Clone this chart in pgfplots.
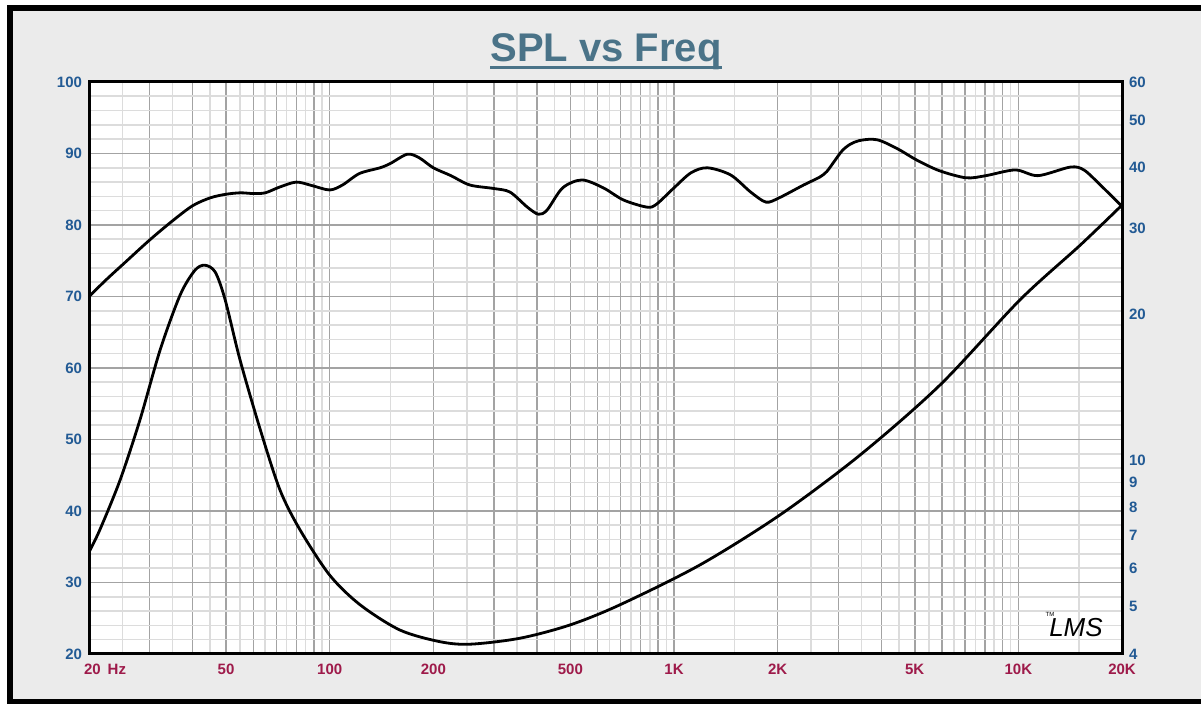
\documentclass[border=0pt]{standalone}
\usepackage{fontspec}
\setmainfont{Liberation Sans}
\usepackage{pgfplots}
\pgfplotsset{compat=1.18}
\definecolor{ylab}{HTML}{225A94}
\definecolor{xlab}{HTML}{9E1A4A}
\definecolor{ttl}{HTML}{4A7388}
\definecolor{bg}{HTML}{EBEBEB}
\definecolor{gmaj}{HTML}{A3A3A3}
\definecolor{gmin}{HTML}{DCDCDC}
\begin{document}
\begin{tikzpicture}
\useasboundingbox (0,0) rectangle (600.5pt,-352pt);
\fill[white] (0,0) rectangle (600.5pt,-352pt);
\draw[line width=3pt, fill=bg] (4.75pt,-4.25pt) rectangle (603pt,-351pt);
\node[anchor=base, inner sep=0, text=ttl, font=\bfseries\fontsize{20}{20}\selectfont] (T) at (303pt,-31pt) {SPL vs Freq};
\draw[ttl, line width=1.5pt] ([yshift=-2.6pt]T.base west) -- ([yshift=-2.6pt]T.base east);

\begin{axis}[
  at={(44.5pt,-327pt)}, anchor=south west,
  scale only axis, width=516.5pt, height=286pt,
  xmode=log, xmin=20, xmax=20000, ymin=20, ymax=100,
  axis background/.style={fill=white},
  xtick={20,30,40,50,60,70,80,90,100,200,300,400,500,600,700,800,900,1000,2000,3000,4000,5000,6000,7000,8000,9000,10000,20000},
  xticklabels={{\makebox[0pt][l]{\hspace{-2.5pt}20\hspace{3.5pt}Hz}},{},{},50,{},{},{},{},100,200,{},{},500,{},{},{},{},1K,2K,{},{},5K,{},{},{},{},10K,20K},
  minor xtick={25,35,45,55,65,75,85,95,150,250,350,450,550,650,750,850,950,1500,2500,3500,4500,5500,6500,7500,8500,9500,15000},
  ytick={20,30,40,50,60,70,80,90,100},
  minor ytick={22,24,26,28,32,34,36,38,42,44,46,48,52,54,56,58,62,64,66,68,72,74,76,78,82,84,86,88,92,94,96,98},
  grid=both,
  major grid style={draw=gmaj, line width=0.8pt},
  minor grid style={draw=gmin, line width=0.8pt},
  major tick length=0pt, minor tick length=0pt,
  axis line style={line width=1.5pt, black},
  tick label style={font=\bfseries\fontsize{7.5}{8}\selectfont},
  /pgf/number format/assume math mode=true,
  xticklabel style={text=xlab, yshift=-1.5pt},
  yticklabel style={text=ylab},
  log ticks with fixed point,
]
\addplot[black, line width=1.4pt, smooth] coordinates {
(20,70.0)(22.5,72.4)(25.5,74.8)(30,77.9)(35,80.6)(40,82.7)(45,83.8)(50,84.3)(55,84.5)(60,84.4)(65,84.5)(71.5,85.3)(80,86.0)(89,85.5)(100,84.9)(109,85.6)(122,87.2)(140,88.0)(150,88.6)(168,89.9)(182,89.4)(200,88.0)(225,86.9)(255,85.6)(300,85.1)(334,84.6)(375,82.5)(404,81.5)(428,82.1)(475,85.2)(540,86.3)(623,85.2)(713,83.5)(834,82.5)(889,82.9)(1000,85.2)(1120,87.3)(1250,88.0)(1460,87.0)(1670,84.6)(1850,83.2)(2020,83.8)(2380,85.6)(2650,86.7)(2780,87.5)(2920,88.9)(3080,90.4)(3250,91.3)(3450,91.8)(3760,92.0)(4020,91.7)(4520,90.5)(5060,89.1)(5890,87.6)(7050,86.6)(8050,86.9)(9800,87.7)(11400,86.9)(14150,88.1)(15500,87.7)(17300,85.6)(20000,82.6)
};
\node[anchor=south west, text=ylab, font=\bfseries\fontsize{6.5}{7}\selectfont, inner sep=0] at ([xshift=4pt,yshift=3pt]rel axis cs:0,1) {dBSPL};
\node[anchor=south east, text=ylab, font=\bfseries\fontsize{6.5}{7}\selectfont, inner sep=0] at ([xshift=0pt,yshift=3pt]rel axis cs:1,1) {Ohm};
\node[anchor=center, font=\itshape\fontsize{13}{13}\selectfont, inner sep=0] at ([xshift=-23pt,yshift=13pt]rel axis cs:1,0) {LMS};
\node[anchor=center, font=\fontsize{3}{3}\selectfont, inner sep=0] at ([xshift=-36pt,yshift=20pt]rel axis cs:1,0) {TM};
\end{axis}

\begin{axis}[
  at={(44.5pt,-327pt)}, anchor=south west,
  scale only axis, width=516.5pt, height=286pt,
  xmode=log, ymode=log, xmin=20, xmax=20000, ymin=4, ymax=60,
  axis x line=none, axis y line*=right,
  ytick={4,5,6,7,8,9,10,20,30,40,50,60},
  yticklabels={4,5,6,7,8,9,10,20,30,40,50,60},
  minor ytick={},
  major tick length=0pt, minor tick length=0pt,
  y axis line style={line width=1.5pt, black},
  tick label style={font=\bfseries\fontsize{7.5}{8}\selectfont},
  yticklabel style={text=ylab},
]
\addplot[black, line width=1.4pt, smooth] coordinates {
(20,6.48)(21.5,7.2)(24.6,9.1)(28.1,12.1)(32.2,16.9)(36.8,21.9)(40.6,24.6)(43.4,25.2)(46.5,24.4)(49.7,21.4)(54.9,16.1)(62.8,11.6)(71.7,8.7)(82,7.2)(100,5.81)(122.5,5.05)(160,4.48)(209,4.24)(256,4.19)(357,4.31)(499,4.59)(697,5.05)(1190,6.10)(2032,7.73)(3470,10.26)(5926,14.3)(10116,21.4)(15111,27.7)(20000,33.5)
};
\end{axis}
\end{tikzpicture}
\end{document}
